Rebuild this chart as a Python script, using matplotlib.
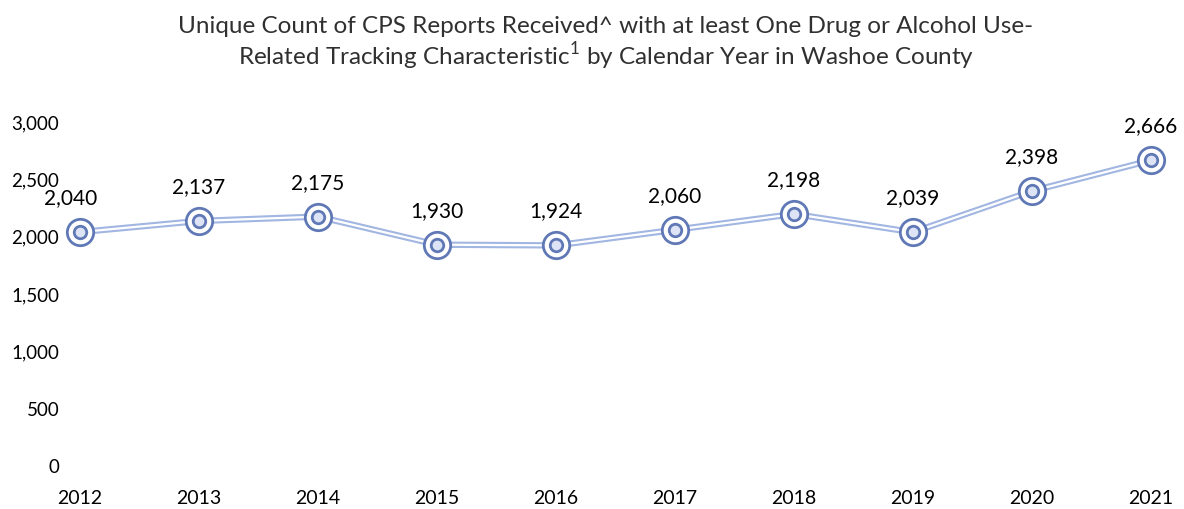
import matplotlib
matplotlib.use("Agg")
import matplotlib.pyplot as plt

years = ["2012", "2013", "2014", "2015", "2016", "2017", "2018", "2019", "2020", "2021"]
counts = [2040, 2137, 2175, 1930, 1924, 2060, 2198, 2039, 2398, 2666]
yticks = [0, 500, 1000, 1500, 2000, 2500, 3000]

plt.rcParams['font.family'] = ['Lato', 'DejaVu Sans']

W, H = 1184, 509
fig = plt.figure(figsize=(W / 100, H / 100), dpi=100)
left = 80 / W
right = 1151 / W
bottom = 1 - 466 / H
top = 1 - 122 / H
ax = fig.add_axes([left, bottom, right - left, top - bottom])

x = list(range(len(years)))
ax.plot(x, counts, color='#A2B6E2', lw=4.6, solid_capstyle='round', zorder=2, clip_on=False)
ax.plot(x, counts, color='white', lw=1.6, solid_capstyle='round', zorder=3, clip_on=False)
ax.plot(x, counts, ls='none', marker='o', ms=19, mfc='white', mec='#6079B6', mew=2.0,
        zorder=4, clip_on=False)
ax.plot(x, counts, ls='none', marker='o', ms=9, mfc='#DCE4F5', mec='#6079B6', mew=2.0,
        zorder=5, clip_on=False)

for i, v in enumerate(counts):
    dx = -9 if i == 0 else 0
    ax.annotate(f"{v:,}", (i, v), xytext=(dx, 34), textcoords='offset pixels',
                ha='center', va='center', fontsize=15, color='black')

ax.set_xlim(0, len(years) - 1)
ax.set_ylim(0, 3000)
ax.set_xticks(x)
ax.set_xticklabels(years, fontsize=14)
ax.set_yticks(yticks)
ax.set_yticklabels([f"{t:,}" for t in yticks], fontsize=13.5)
ax.tick_params(axis='both', length=0)
ax.tick_params(axis='x', pad=17)
ax.tick_params(axis='y', pad=15)
for s in ax.spines.values():
    s.set_visible(False)

fig.text(606 / W, 1 - 44 / H,
         "Unique Count of CPS Reports Received^ with at least One Drug or Alcohol Use-\n"
         "Related Tracking Characteristic$^{\\mathregular{1}}$ by Calendar Year in Washoe County",
         ha='center', va='center', fontsize=17.5, fontweight='normal', linespacing=1.15,
         color='#303030')

fig.savefig("out.png", dpi=100)
